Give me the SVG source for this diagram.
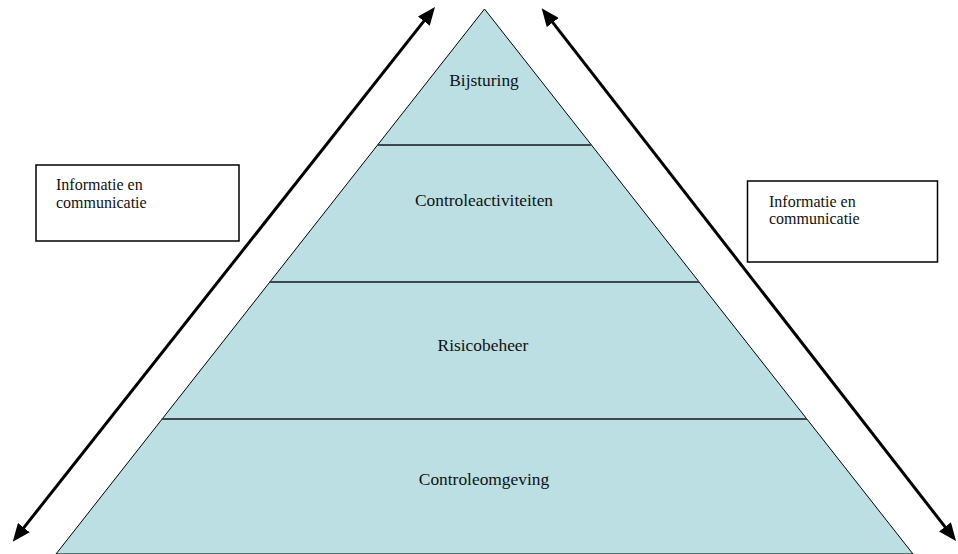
<svg xmlns="http://www.w3.org/2000/svg" width="958" height="554" viewBox="0 0 958 554">
  <style>
    .lbl { font-family: "Liberation Serif", "Times New Roman", serif; fill: #111; }
    .tier { font-size: 17.4px; text-anchor: middle; }
    .box { font-size: 16px; }
    .boxrect { fill: #fff; stroke: #000; stroke-width: 1.5; }
    .div { stroke: #3e484d; stroke-width: 2.2; }
    .arrow { stroke: #000; stroke-width: 3; fill: none; marker-start: url(#ah); marker-end: url(#ah); }
  </style>
  <defs>
    <marker id="ah" viewBox="0 0 18 15" refX="8" refY="7.5" markerWidth="18" markerHeight="15" markerUnits="userSpaceOnUse" orient="auto-start-reverse">
      <path d="M0,0 L18,7.5 L0,15 z" fill="#000"/>
    </marker>
  </defs>
  <rect width="958" height="554" fill="#fff"/>
  <g id="pyramid">
    <polygon points="484.5,9 56,554 913,554" fill="#bbdfe3" stroke="#000" stroke-width="1"/>
  </g>
  <g id="dividers">
    <line class="div" x1="377.5" y1="145" x2="591.5" y2="145"/>
    <line class="div" x1="269.5" y1="282" x2="699" y2="282"/>
    <line class="div" x1="161.5" y1="419" x2="807" y2="419"/>
  </g>
  <g id="bijsturing"><text class="lbl tier" x="484" y="86">Bijsturing</text></g>
  <g id="controleactiviteiten"><text class="lbl tier" x="484" y="206">Controleactiviteiten</text></g>
  <g id="risicobeheer"><text class="lbl tier" x="483" y="351">Risicobeheer</text></g>
  <g id="controleomgeving"><text class="lbl tier" x="484" y="485">Controleomgeving</text></g>
  <g id="connectors">
    <line class="arrow" x1="18.9" y1="533.9" x2="428.8" y2="14.9"/>
    <line class="arrow" x1="547.8" y1="16.2" x2="949.9" y2="533.1"/>
  </g>
  <g id="info-left">
    <rect class="boxrect" x="36" y="165" width="203" height="76"/>
    <text class="lbl box" x="56" y="190">Informatie en</text>
    <text class="lbl box" x="56" y="208">communicatie</text>
  </g>
  <g id="info-right">
    <rect class="boxrect" x="747.5" y="181" width="190" height="81"/>
    <text class="lbl box" x="769" y="207">Informatie en</text>
    <text class="lbl box" x="769" y="224">communicatie</text>
  </g>
</svg>
